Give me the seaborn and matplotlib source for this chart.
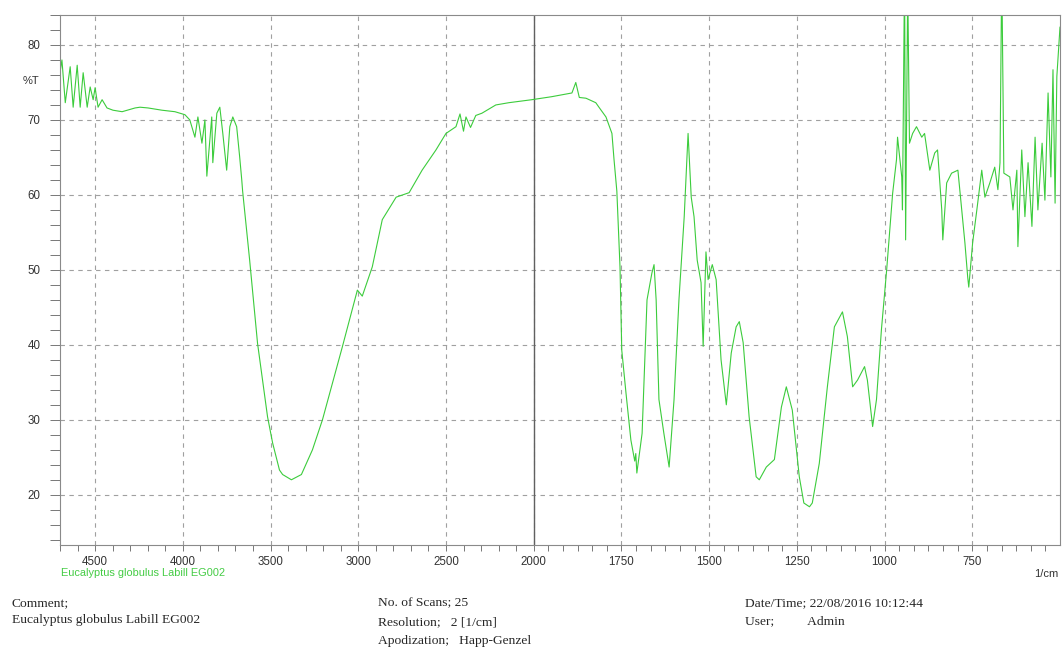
import numpy as np
import pandas as pd
import matplotlib
matplotlib.use("Agg")
import matplotlib.pyplot as plt
import matplotlib.ticker as mticker
import seaborn as sns

# ---- data ----
wavenumber = [
    4700, 4689, 4670, 4642, 4625, 4602, 4585, 4568, 4545, 4528, 4511, 4500, 4483, 4460,
    4432, 4398, 4346, 4272, 4244, 4198, 4119, 4045, 3988, 3960, 3931, 3914, 3891, 3874,
    3863, 3835, 3829, 3806, 3789, 3772, 3750, 3732, 3715, 3693, 3676, 3664, 3659, 3619,
    3574, 3517, 3488, 3449, 3431, 3381, 3324, 3261, 3204, 3147, 3091, 3034, 3005, 2977,
    2920, 2863, 2784, 2710, 2636,
    2557, 2500, 2443, 2420, 2400, 2386, 2360, 2330, 2295, 2216, 2142, 2011, 1949, 1891,
    1880, 1870, 1851, 1823, 1814, 1794, 1777, 1771, 1763, 1754, 1749, 1737, 1723, 1712, 1709,
    1706, 1691, 1677, 1663, 1657, 1651, 1643, 1629, 1614, 1600, 1586, 1571, 1560, 1551,
    1543, 1534, 1523, 1517, 1509, 1503, 1491, 1480, 1466, 1451, 1437, 1423, 1414, 1403,
    1386, 1366, 1357, 1337, 1314, 1294, 1280, 1263, 1243, 1230, 1214, 1206, 1186, 1163,
    1143, 1120, 1106, 1091, 1077, 1057, 1049, 1034, 1023, 1009, 994, 977, 966, 963,
    951, 949, 943, 940, 934, 929, 920, 909, 894, 886, 871, 857, 849, 837,
    834, 823, 809, 791, 780, 771, 763, 760, 749, 737, 723, 714, 700, 686,
    677, 671, 666, 660, 643, 634, 623, 620, 609, 600, 591, 580, 571, 563,
    551, 543, 534, 526, 520, 514, 509, 500,
]
transmittance = [
    76.3, 78.0, 72.3, 77.1, 71.7, 77.3, 71.7, 76.3, 71.7, 74.4, 72.7, 74.3, 71.7, 72.7,
    71.6, 71.3, 71.1, 71.6, 71.7, 71.6, 71.3, 71.1, 70.7, 70.0, 67.7, 70.4, 66.9, 70.0,
    62.5, 70.4, 64.3, 70.9, 71.7, 68.2, 63.3, 69.1, 70.4, 69.1, 65.1, 62.0, 60.5, 51.3,
    40.2, 30.4, 26.9, 23.3, 22.7, 22.0, 22.7, 26.0, 30.0, 34.9, 39.7, 44.7, 47.3, 46.5,
    50.4, 56.7, 59.7, 60.3, 63.3,
    66.0, 68.2, 69.1, 70.8, 68.5, 70.4, 69.0, 70.6, 70.9, 72.0, 72.3, 72.7, 73.1, 73.6,
    75.0, 73.0, 72.9, 72.3, 71.7, 70.4, 68.2, 64.7, 60.5, 50.4, 39.3, 33.6, 27.3, 24.5, 25.5,
    22.9, 28.2, 46.0, 49.6, 50.7, 46.0, 32.7, 28.2, 23.7, 32.7, 46.0, 57.1, 68.2, 59.7,
    57.1, 51.3, 48.3, 39.8, 52.4, 48.7, 50.7, 48.7, 38.0, 32.0, 38.9, 42.4, 43.1, 40.3,
    30.4, 22.4, 22.0, 23.7, 24.7, 31.7, 34.4, 31.3, 22.4, 18.9, 18.4, 18.9, 24.2, 34.4,
    42.4, 44.4, 41.1, 34.4, 35.3, 37.1, 35.3, 29.1, 32.7, 42.0, 50.0, 60.2, 64.7, 67.7,
    62.4, 58.0, 90.0, 54.0, 88.0, 66.9, 68.2, 69.1, 67.7, 68.2, 63.3, 65.6, 66.0, 58.0,
    54.0, 61.6, 62.9, 63.3, 58.0, 53.6, 49.0, 47.7, 53.6, 58.0, 63.3, 59.7, 61.6, 63.7,
    60.7, 64.3, 90.0, 62.9, 62.4, 58.0, 63.3, 53.1, 66.0, 57.1, 64.3, 55.8, 67.7, 58.0,
    66.9, 59.3, 73.6, 62.4, 76.7, 58.9, 75.8, 82.4,
]
x_major = [4500, 4000, 3500, 3000, 2500, 2000, 1750, 1500, 1250, 1000, 750]
y_major = [20, 30, 40, 50, 60, 70, 80]
sample_name = "Eucalyptus globulus Labill EG002"

df = pd.DataFrame({"wn": wavenumber, "T": transmittance})

sns.set_theme(style="white")
plt.rcParams["font.family"] = ["Liberation Sans", "DejaVu Sans"]

fig = plt.figure(figsize=(10.62, 6.5), dpi=100)
ax = fig.add_axes([60 / 1062, 1 - 545 / 650, 1000 / 1062, 530 / 650])

# Shimadzu-style axis: region below 2000 1/cm is expanded two-fold
def fwd(x):
    x = np.asarray(x, dtype=float)
    return np.where(x >= 2000, 2000 + (x - 2000) * 0.5, x)

def inv(t):
    t = np.asarray(t, dtype=float)
    return np.where(t >= 2000, 2000 + (t - 2000) * 2.0, t)

ax.set_xscale("function", functions=(fwd, inv))

sns.lineplot(data=df, x="wn", y="T", sort=False, estimator=None,
             color="#3ccc3c", linewidth=0.8, ax=ax)

ax.set_xlim(4700, 500)
ax.set_ylim(13.3, 84)

minor_x = list(np.arange(4700, 2000, -100)) + list(2000 - np.arange(0, 1500, 250 / 6))
ax.xaxis.set_major_locator(mticker.FixedLocator(x_major))
ax.xaxis.set_minor_locator(mticker.FixedLocator(minor_x))
ax.xaxis.set_major_formatter(mticker.FixedFormatter([str(v) for v in x_major]))
ax.yaxis.set_major_locator(mticker.FixedLocator(y_major))
ax.yaxis.set_minor_locator(mticker.MultipleLocator(2))

ax.grid(True, which="major", color="#a0a0a0", linestyle=(0, (4, 4)), linewidth=0.8)
ax.axvline(2000, color="#606060", linewidth=1.0, zorder=1)

for s in ax.spines.values():
    s.set_color("#8a8a8a")
    s.set_linewidth(0.8)

ax.tick_params(axis="x", which="both", direction="out", length=4, width=0.7,
               color="#777777", labelsize=8.3, labelcolor="#333333", bottom=True, pad=4)
ax.tick_params(axis="y", which="both", direction="out", length=7, width=0.7,
               color="#777777", labelsize=8.3, labelcolor="#333333", left=True, pad=7)
ax.set_xlabel("")
ax.set_ylabel("")

fig.text(23 / 1062, 1 - 81 / 650, "%T", fontsize=8, color="#333333", va="center")
fig.text(1058 / 1062, 1 - 574 / 650, "1/cm", fontsize=8, color="#333333",
         ha="right", va="center")
fig.text(61 / 1062, 1 - 573 / 650, sample_name, fontsize=7.9, color="#45cc45",
         va="center")

serif = ["Liberation Serif", "DejaVu Serif"]
fs = 9.7
fig.text(12 / 1062, 1 - 603 / 650, "Comment;", family=serif, fontsize=fs, va="center")
fig.text(12 / 1062, 1 - 620 / 650, sample_name, family=serif, fontsize=fs, va="center")
fig.text(378 / 1062, 1 - 603 / 650, "No. of Scans; 25", family=serif, fontsize=fs, va="center")
fig.text(378 / 1062, 1 - 622 / 650, "Resolution;   2 [1/cm]", family=serif, fontsize=fs, va="center")
fig.text(378 / 1062, 1 - 641 / 650, "Apodization;   Happ-Genzel", family=serif, fontsize=fs, va="center")
fig.text(745 / 1062, 1 - 603 / 650, "Date/Time; 22/08/2016 10:12:44", family=serif, fontsize=fs, va="center")
fig.text(745 / 1062, 1 - 621 / 650, "User;          Admin", family=serif, fontsize=fs, va="center")

fig.savefig("out.png", dpi=100)
